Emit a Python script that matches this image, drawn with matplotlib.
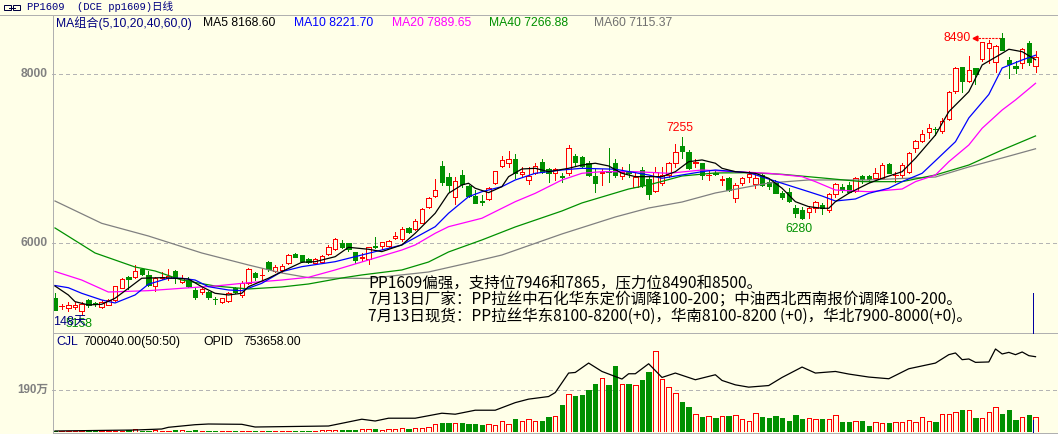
import matplotlib
matplotlib.use('Agg')
import matplotlib.pyplot as plt
from matplotlib.lines import Line2D
from matplotlib.patches import Rectangle
import numpy as np

W, H = 1058, 434
BG = '#ffffe8'
RED = '#ff0000'
GREEN = '#009000'
GRID = '#b4b4b4'
FRAME = '#b0b0b0'
NAVY = '#000080'
LATIN = ['Liberation Sans', 'Noto Sans CJK SC']
PX = 0.72  # one pixel in points at dpi 100

# daily candles, PP1609, 148 days
opens = [5353, 5250, 5235, 5243, 5196, 5326, 5287, 5246, 5267, 5326,
         5471, 5594, 5601, 5693, 5622, 5491, 5583, 5583, 5672, 5542,
         5562, 5444, 5417, 5417, 5342, 5306, 5317, 5464, 5385, 5531,
         5642, 5618, 5779, 5669, 5677, 5760, 5870, 5858, 5807, 5760,
         5779, 5870, 5929, 5997, 5997, 5890, 5822, 5807, 5965, 5968,
         5968, 6056, 6044, 6181, 6166, 6241, 6423, 6556, 6912, 6785,
         6548, 6805, 6675, 6556, 6494, 6518, 6707, 6912, 6951, 6999,
         6813, 6746, 6832, 6962, 6873, 6825, 6789, 6825, 7030, 7022,
         6944, 6793, 6828, 6848, 6944, 6793, 6836, 6667, 6864, 6754,
         6619, 6707, 6805, 6944, 7152, 7081, 6946, 6944, 6801, 6829,
         6746, 6773, 6536, 6714, 6778, 6699, 6805, 6726, 6707, 6588,
         6607, 6418, 6391, 6364, 6411, 6450, 6391, 6577, 6667, 6687,
         6619, 6793, 6793, 6766, 6773, 6935, 6801, 6805, 6844, 7128,
         7207, 7317, 7354, 7329, 7468, 7799, 8080, 7921, 8068, 8174,
         8304, 8139, 8423, 8166, 8095, 8127, 8364, 8098]
highs = [5409, 5278, 5306, 5302, 5299, 5338, 5306, 5326, 5338, 5495,
         5590, 5613, 5740, 5698, 5672, 5601, 5661, 5689, 5676, 5622,
         5601, 5464, 5471, 5432, 5361, 5353, 5424, 5483, 5551, 5708,
         5661, 5701, 5791, 5740, 5748, 5867, 5878, 5862, 5826, 5826,
         5858, 5977, 6056, 6036, 6000, 5898, 5878, 5956, 6068, 6016,
         6036, 6134, 6193, 6193, 6281, 6411, 6548, 6754, 6971, 6832,
         6778, 6864, 6687, 6627, 6568, 6667, 6856, 7033, 7089, 7054,
         6903, 6903, 6951, 6994, 6884, 6884, 6825, 7160, 7054, 7030,
         6974, 6873, 6873, 7121, 6999, 6903, 6935, 6832, 6896, 6785,
         6903, 6903, 6962, 7172, 7255, 7101, 6991, 6951, 6864, 6864,
         6793, 6785, 6707, 6785, 6852, 6844, 6832, 6746, 6746, 6619,
         6648, 6450, 6430, 6438, 6497, 6470, 6588, 6707, 6695, 6719,
         6785, 6805, 6805, 6891, 6944, 6944, 6844, 6944, 7081, 7219,
         7338, 7405, 7377, 7476, 7799, 8087, 8087, 8213, 8075, 8383,
         8403, 8344, 8490, 8198, 8154, 8304, 8391, 8272]
lows = [5207, 5219, 5196, 5219, 5158, 5246, 5255, 5235, 5262, 5314,
        5464, 5452, 5590, 5622, 5491, 5436, 5571, 5562, 5523, 5531,
        5483, 5334, 5393, 5338, 5282, 5294, 5306, 5405, 5365, 5512,
        5562, 5571, 5669, 5661, 5661, 5748, 5831, 5775, 5760, 5748,
        5760, 5858, 5917, 5938, 5910, 5767, 5791, 5748, 5938, 5926,
        5949, 6044, 6027, 6115, 6154, 6233, 6411, 6548, 6687, 6607,
        6462, 6659, 6548, 6470, 6450, 6509, 6695, 6896, 6903, 6766,
        6797, 6695, 6813, 6825, 6726, 6746, 6726, 6805, 6912, 6896,
        6797, 6607, 6687, 6726, 6785, 6754, 6785, 6659, 6667, 6521,
        6607, 6687, 6785, 6903, 7003, 6873, 6903, 6754, 6746, 6805,
        6687, 6616, 6489, 6687, 6726, 6648, 6675, 6636, 6588, 6517,
        6489, 6312, 6280, 6300, 6371, 6340, 6371, 6548, 6600, 6600,
        6607, 6707, 6726, 6754, 6766, 6825, 6726, 6785, 6825, 7081,
        7192, 7239, 7278, 7298, 7456, 7772, 7791, 7902, 7878, 8154,
        8127, 8027, 8280, 7956, 8008, 8075, 8107, 8027]
closes = [5207, 5258, 5267, 5267, 5275, 5267, 5275, 5306, 5326, 5491,
          5574, 5574, 5672, 5630, 5503, 5590, 5601, 5613, 5583, 5583,
          5491, 5365, 5456, 5365, 5336, 5346, 5412, 5424, 5531, 5693,
          5601, 5626, 5689, 5720, 5732, 5858, 5838, 5787, 5772, 5807,
          5846, 5956, 6048, 5956, 5926, 5799, 5830, 5949, 5949, 6009,
          6024, 6087, 6162, 6134, 6264, 6399, 6529, 6627, 6726, 6687,
          6738, 6695, 6556, 6477, 6486, 6655, 6852, 6983, 6991, 6825,
          6837, 6797, 6912, 6844, 6825, 6873, 6781, 7121, 6962, 6912,
          6805, 6714, 6836, 6840, 6805, 6844, 6828, 6785, 6687, 6580,
          6844, 6805, 6944, 7081, 7093, 6884, 6954, 6805, 6809, 6821,
          6754, 6627, 6687, 6766, 6813, 6766, 6687, 6675, 6596, 6548,
          6501, 6359, 6296, 6411, 6489, 6411, 6577, 6695, 6627, 6607,
          6773, 6758, 6754, 6825, 6923, 6832, 6809, 6923, 7069, 7207,
          7287, 7358, 7346, 7448, 7784, 8075, 7921, 8047, 8000, 8375,
          8364, 8332, 8284, 8115, 8075, 8293, 8146, 8205]
volumes = [45600, 30400, 30400, 30400, 45600, 30400, 30400, 30400, 30400, 45600,
           60800, 76000, 121600, 60800, 60800, 76000, 60800, 60800, 76000, 91200,
           60800, 91200, 60800, 60800, 45600, 45600, 45600, 60800, 45600, 60800,
           60800, 45600, 60800, 45600, 45600, 45600, 60800, 45600, 60800, 60800,
           76000, 91200,
           91200, 91200, 91200, 91200, 121600, 136800, 136800, 91200, 136800, 136800,
           167200, 136800, 167200, 167200, 243200, 349600, 410400, 410400, 410400, 410400,
           349600, 349600, 304000, 349600, 304000, 501600, 349600, 592800, 501600, 577600,
           501600, 501600, 668800, 729600, 1231200, 1717600, 1641600, 1687200, 1915200, 2188800,
           2447200, 2143200, 3009600, 2188800, 2188800, 2143200, 2371200, 2736000, 3693600, 2401600,
           2067200, 1763200, 1368000, 1140000, 805600, 684000, 729600, 638400, 729600, 729600,
           760000, 577600, 501600, 851200, 684000, 638400, 729600, 638400, 501600, 775200,
           592800, 638400, 592800, 592800, 577600, 760000, 456000, 456000, 501600, 501600,
           273600, 456000, 410400, 410400, 456000, 456000, 547200, 456000, 668800, 501600,
           456000, 805600, 805600, 912000, 1003200, 1003200, 638400, 638400, 912000, 1140000,
           820800, 1003200, 547200, 668800, 775200, 700040]

# open interest, read at sample days
oi_idx = [0, 12, 16, 17, 21, 23, 28, 30, 41, 43, 46, 48, 50, 54, 58, 60, 63, 66, 69, 71,
          74, 75, 77, 78, 80, 82, 85, 86, 87, 89, 91, 93, 96, 99, 100, 102, 104, 107, 109, 112,
          114, 117, 119, 122, 125, 128, 132, 134, 135, 136, 137, 138, 140, 141, 142, 143, 144,
          145, 146, 147]
oi_val = [10000, 20000, 30000, 47000, 73000, 80000, 77000, 50000, 60000, 87000,
          128000, 110000, 138000, 138000, 188000, 178000, 218000, 218000, 294000, 329000,
          355000, 395000, 590000, 596000, 690000, 606000, 530000, 583000, 583000, 683000,
          546000, 590000, 523000, 573000, 516000, 472000, 449000, 465000, 546000, 650000,
          590000, 606000, 580000, 550000, 533000, 633000, 690000, 774000, 791000, 724000,
          731000, 697000, 701000, 831000, 781000, 797000, 774000, 801000, 764000, 753658]

# moving averages at sample days
ma5_idx = [0, 2, 3, 5, 7, 9, 11, 13, 16, 18, 20, 22, 24, 26, 28, 29, 32, 34, 37, 39,
           42, 44, 47, 49, 52, 54, 57, 59, 61, 62, 63, 65, 67, 68, 70, 72, 74, 77, 79, 81,
           83, 85, 87, 89, 91, 93, 95, 97, 99, 100, 102, 105, 107, 109, 111, 113, 115, 116,
           117, 119, 122, 124, 127, 129, 132, 134, 137, 139, 142, 143, 145, 147]
ma5_val = [5491, 5385, 5306, 5267, 5275, 5346, 5464, 5583, 5590, 5583,
           5574, 5483, 5405, 5385, 5405, 5483, 5583, 5661, 5772, 5779,
           5838, 5949, 5926, 5898, 5977, 6115, 6352, 6588, 6687, 6707,
           6648, 6596, 6667, 6785, 6876, 6884, 6844, 6884, 6923, 6944,
           6912, 6825, 6785, 6785, 6785, 6844, 6962, 6983, 6944, 6884,
           6844, 6825, 6766, 6648, 6489, 6430, 6411, 6411, 6489, 6588,
           6707, 6766, 6844, 7003, 7278, 7554, 7791, 8107, 8245, 8293,
           8264, 8169]
ma10_idx = [0, 2, 4, 7, 9, 12, 14, 17, 19, 21, 23, 26, 28, 31, 34, 37, 42, 47, 52, 57,
            59, 62, 64, 67, 69, 72, 76, 79, 84, 89, 91, 94, 97, 99, 104, 109, 113, 115, 117,
            120, 122, 125, 127, 130, 132, 135, 137, 140, 142, 145, 147]
ma10_val = [5497, 5471, 5405, 5326, 5290, 5385, 5512, 5583, 5583, 5562,
            5483, 5444, 5436, 5523, 5661, 5720, 5779, 5878, 5977, 6193,
            6352, 6548, 6607, 6667, 6746, 6825, 6864, 6884, 6873, 6805,
            6766, 6805, 6844, 6864, 6832, 6707, 6607, 6556, 6497, 6521,
            6588, 6648, 6726, 6825, 6974, 7199, 7480, 7758, 8071, 8166, 8222]
ma20_idx = [0, 4, 8, 14, 19, 24, 29, 34, 38, 42, 47, 52, 54, 57, 59, 64, 69, 72, 76, 79,
            82, 87, 92, 97, 102, 107, 112, 114, 117, 122, 127, 129, 132, 134, 137, 139, 142,
            144, 147]
ma20_val = [5663, 5562, 5420, 5436, 5464, 5491, 5530, 5562, 5594, 5681,
            5799, 5917, 5977, 6115, 6193, 6293, 6489, 6588, 6746, 6825,
            6844, 6844, 6825, 6864, 6844, 6825, 6785, 6726, 6627, 6607,
            6639, 6726, 6805, 6962, 7160, 7358, 7574, 7693, 7890]
ma40_idx = [0, 6, 12, 15, 19, 24, 29, 34, 38, 43, 46, 52, 56, 59, 64, 69, 76, 79, 86, 89,
            94, 99, 104, 109, 115, 121, 127, 132, 137, 142, 147]
ma40_val = [6178, 5882, 5716, 5669, 5562, 5491, 5456, 5480, 5515, 5586,
            5622, 5681, 5775, 5894, 6036, 6190, 6379, 6474, 6639, 6687,
            6793, 6829, 6832, 6813, 6770, 6726, 6726, 6805, 6923, 7101, 7267]
ma60_idx = [0, 7, 14, 22, 29, 34, 38, 47, 56, 62, 67, 76, 84, 89, 94, 99, 107, 113, 122,
            132, 137, 142, 147]
ma60_val = [6497, 6233, 6083, 5882, 5740, 5645, 5590, 5580, 5657, 5764,
            5858, 6107, 6308, 6414, 6485, 6592, 6710, 6746, 6746, 6781,
            6900, 7006, 7115]

price_ticks = [8000, 6000]
vol_tick = 1900000
vol_tick_label = '190万'

header = 'PP1609  (DCE pp1609)日线'
legend_items = [('MA组合(5,10,20,40,60,0)', NAVY, 56),
                ('MA5 8168.60', 'black', 203),
                ('MA10 8221.70', '#0000ff', 294),
                ('MA20 7889.65', '#ff00ff', 392),
                ('MA40 7266.88', GREEN, 489),
                ('MA60 7115.37', '#707070', 594)]
notes = ['PP1609偏强，支持位7946和7865，压力位8490和8500。',
         '7月13日厂家：PP拉丝中石化华东定价调降100-200；中油西北西南报价调降100-200。',
         '7月13日现货：PP拉丝华东8100-8200(+0)，华南8100-8200 (+0)，华北7900-8000(+0)。']

XLIM = (-0.45, 150.37)


def fig_rect(x0, y0, x1, y1):
    return [x0 / W, 1 - y1 / H, (x1 - x0) / W, (y1 - y0) / H]


def fig_line(fig, x0, y0, x1, y1, color=FRAME, lw=PX):
    fig.add_artist(Line2D([x0 / W, x1 / W], [1 - y0 / H, 1 - y1 / H],
                          transform=fig.transFigure, color=color, lw=lw,
                          antialiased=False))


def fig_text(fig, x, y, s, **kw):
    fig.text(x / W, 1 - y / H, s, va='center', **kw)


def draw_price(fig):
    ax = fig.add_axes(fig_rect(52, 14, 1058, 333))
    ax.set_xlim(*XLIM)
    ax.set_ylim(4935, 8710)
    ax.axis('off')
    ax.patch.set_alpha(0)

    for level in price_ticks:
        ax.axhline(level, color=GRID, ls=(0, (3, 3)), lw=PX, zorder=1, antialiased=False)
        ax.text(-4 / 1006, level, str(level), transform=ax.get_yaxis_transform(),
                ha='right', va='center', color='#808080', fontsize=8.7,
                fontweight='bold', family='Liberation Sans')

    idx = np.arange(len(opens))
    o, h, l, c = (np.array(a, dtype=float) for a in (opens, highs, lows, closes))
    up = c >= o
    top = np.maximum(o, c)
    bot = np.minimum(o, c)
    col = np.where(up, RED, GREEN)
    ax.vlines(idx, top, h, colors=col, lw=PX, zorder=3, antialiased=False)
    ax.vlines(idx, l, bot, colors=col, lw=PX, zorder=3, antialiased=False)
    ax.bar(idx[up], (top - bot)[up], bottom=bot[up], width=0.66,
           facecolor=BG, edgecolor=RED, lw=PX, zorder=4, antialiased=False)
    ax.bar(idx[~up], (top - bot)[~up], bottom=bot[~up], width=0.66,
           facecolor=GREEN, edgecolor=GREEN, lw=PX, zorder=4, antialiased=False)

    ax.plot(ma60_idx, ma60_val, color='#808080', lw=0.9, zorder=5)
    ax.plot(ma40_idx, ma40_val, color=GREEN, lw=0.9, zorder=5)
    ax.plot(ma20_idx, ma20_val, color='#ff00ff', lw=0.9, zorder=5)
    ax.plot(ma10_idx, ma10_val, color='#0000ff', lw=0.9, zorder=5)
    ax.plot(ma5_idx, ma5_val, color='black', lw=0.9, zorder=5)

    # high / low marks
    hi = int(np.argmax(h))
    ax.plot([hi - 4.1, hi - 0.3], [o[hi], o[hi]], color=RED, lw=0.8, ls=(0, (2, 1)), zorder=6)
    ax.plot(hi - 4.1, o[hi], marker='<', ms=3.5, color=RED, zorder=6)
    ax.text(hi - 4.7, o[hi], '%d' % h[hi], ha='right', va='center', color=RED,
            fontsize=8.7, family='Liberation Sans')
    mid_hi = 94
    ax.annotate('%d' % h[mid_hi], xy=(mid_hi, h[mid_hi]), xytext=(-2, 9),
                textcoords='offset pixels', ha='center', va='center', color=RED,
                fontsize=8.7, family='Liberation Sans')
    lo = 112
    ax.annotate('%d' % l[lo], xy=(lo, l[lo]), xytext=(-3, -10),
                textcoords='offset pixels', ha='center', va='center', color=GREEN,
                fontsize=8.7, family='Liberation Sans')
    first_lo = int(np.argmin(l))
    ax.annotate('%d' % l[first_lo], xy=(first_lo, l[first_lo]), xytext=(-3, -10),
                textcoords='offset pixels', ha='center', va='center', color=GREEN,
                fontsize=8.7, family='Liberation Sans', zorder=6)
    ax.text(-0.3, 5065, '%d天' % len(opens), ha='left', va='center', color=NAVY,
            fontsize=9, family=LATIN, zorder=7)
    return ax


def draw_volume(fig):
    axv = fig.add_axes(fig_rect(52, 333, 1058, 432))
    axv.set_xlim(*XLIM)
    axv.set_ylim(0, 4511000)
    axv.axis('off')
    axv.patch.set_alpha(0)

    axv.axhline(vol_tick, color=GRID, ls=(0, (3, 3)), lw=PX, zorder=1, antialiased=False)
    axv.text(-4 / 1006, vol_tick, vol_tick_label, transform=axv.get_yaxis_transform(),
             ha='right', va='center', color='#808080', fontsize=8.4,
             fontweight='bold', family=LATIN)

    idx = np.arange(len(volumes))
    o = np.array(opens)
    c = np.array(closes)
    v = np.array(volumes)
    up = c >= o
    axv.bar(idx[up], v[up], width=0.66, facecolor=BG, edgecolor=RED, lw=PX, zorder=3,
            antialiased=False)
    axv.bar(idx[~up], v[~up], width=0.66, facecolor=GREEN, edgecolor=GREEN, lw=PX, zorder=3,
            antialiased=False)

    axo = axv.twinx()
    axo.set_xlim(*XLIM)
    axo.set_ylim(0, 990900)
    axo.axis('off')
    axo.plot(oi_idx, oi_val, color='black', lw=0.9, zorder=4)
    return axv


def main():
    fig = plt.figure(figsize=(W / 100, H / 100), dpi=100, facecolor=BG)

    draw_price(fig)
    draw_volume(fig)

    # frame lines
    fig_line(fig, 0, 14.5, W, 14.5)
    fig_line(fig, 52.5, 14.5, 52.5, H)
    fig_line(fig, 52.5, 332.5, W, 332.5)
    fig_line(fig, 52.5, 432.5, W, 432.5)
    # cursor line at right
    fig_line(fig, 1033, 293, 1033, 333, color='#0000a0')
    fig_line(fig, 1033, 420, 1033, 432, color='#0000a0')

    # header
    fig.add_artist(Rectangle((4 / W, 1 - 10 / H), 7 / W, 5 / H, transform=fig.transFigure,
                             fill=False, edgecolor='#000040', lw=PX))
    fig.add_artist(Rectangle((13 / W, 1 - 10 / H), 7 / W, 5 / H, transform=fig.transFigure,
                             fill=False, edgecolor='#000040', lw=PX))
    fig_line(fig, 9, 7.5, 15, 7.5, color='#000040')
    fig_text(fig, 27, 7, header, color=NAVY, fontsize=7.6,
             family=['Liberation Mono', 'Noto Sans CJK SC'])

    for text, color, x in legend_items:
        fig_text(fig, x, 23, text, color=color, fontsize=8.7, family=LATIN)

    fig_text(fig, 56, 342, 'CJL', color=NAVY, fontsize=8.8, family=LATIN)
    fig_text(fig, 83, 342, '700040.00(50:50)', color='black', fontsize=8.8, family=LATIN)
    fig_text(fig, 203, 342, 'OPID', color='black', fontsize=8.8, family=LATIN)
    fig_text(fig, 243, 342, '753658.00', color='black', fontsize=8.8, family=LATIN)

    for k, line in enumerate(notes):
        fig_text(fig, 368, 283 + 16.5 * k, line, color='black', fontsize=11.2,
                 family=['Noto Sans CJK SC', 'DejaVu Sans'])

    fig.savefig('out.png', dpi=100, facecolor=BG)


if __name__ == '__main__':
    main()
